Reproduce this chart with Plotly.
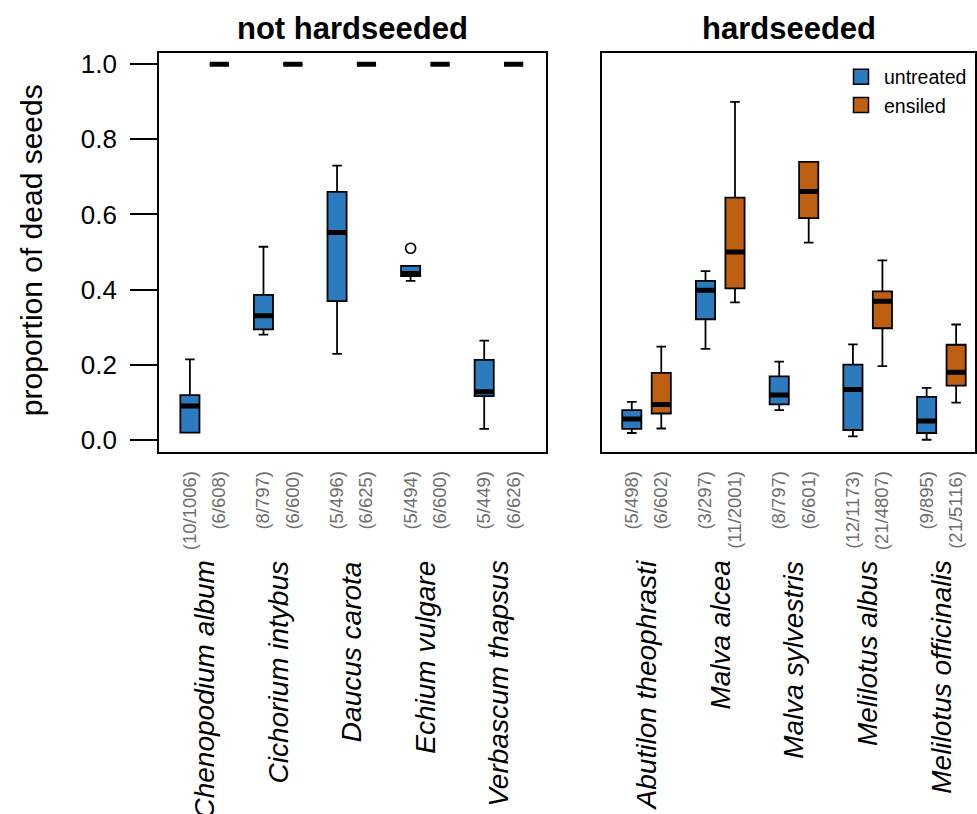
import plotly.graph_objects as go

# ---------------- data ----------------
species_nh = ["Chenopodium album", "Cichorium intybus", "Daucus carota", "Echium vulgare", "Verbascum thapsus"]
counts_nh_untreated = ["(10/1006)", "(8/797)", "(5/496)", "(5/494)", "(5/449)"]
counts_nh_ensiled = ["(6/608)", "(6/600)", "(6/625)", "(6/600)", "(6/626)"]

nh_untr_low = [0.019, 0.280, 0.229, 0.423, 0.029]
nh_untr_q1 = [0.019, 0.294, 0.369, 0.436, 0.116]
nh_untr_med = [0.090, 0.330, 0.552, 0.443, 0.128]
nh_untr_q3 = [0.119, 0.386, 0.660, 0.463, 0.213]
nh_untr_up = [0.214, 0.514, 0.730, 0.463, 0.264]
nh_ens_val = [1.0, 1.0, 1.0, 1.0, 1.0]
nh_outlier_species = ["Echium vulgare"]
nh_outlier_value = [0.510]

species_h = ["Abutilon theophrasti", "Malva alcea", "Malva sylvestris", "Melilotus albus", "Melilotus officinalis"]
counts_h_untreated = ["(5/498)", "(3/297)", "(8/797)", "(12/1173)", "(9/895)"]
counts_h_ensiled = ["(6/602)", "(11/2001)", "(6/601)", "(21/4807)", "(21/5116)"]

h_untr_low = [0.018, 0.242, 0.079, 0.009, 0.000]
h_untr_q1 = [0.029, 0.321, 0.094, 0.026, 0.018]
h_untr_med = [0.055, 0.398, 0.119, 0.134, 0.050]
h_untr_q3 = [0.079, 0.423, 0.169, 0.200, 0.114]
h_untr_up = [0.101, 0.449, 0.208, 0.254, 0.138]

h_ens_low = [0.030, 0.366, 0.525, 0.196, 0.099]
h_ens_q1 = [0.070, 0.403, 0.590, 0.297, 0.144]
h_ens_med = [0.094, 0.500, 0.661, 0.369, 0.180]
h_ens_q3 = [0.178, 0.645, 0.740, 0.395, 0.253]
h_ens_up = [0.248, 0.900, 0.740, 0.478, 0.307]

y_ticks = [0.0, 0.2, 0.4, 0.6, 0.8, 1.0]

# ---------------- styling ----------------
BLUE = "#2B7BBE"
ORANGE = "#BF5F12"
FONT = "Liberation Sans, Arial, sans-serif"
W, H = 977, 814
BOXW = 0.65

pos_untr = [1 + 2.5 * i for i in range(5)]
pos_ens = [p + 1 for p in pos_untr]
pair_center = [p + 0.5 for p in pos_untr]

fig = go.Figure()


def add_boxes(xa, ya, pos, low, q1, med, q3, up, color):
    fig.add_trace(go.Box(
        x=pos, lowerfence=low, q1=q1, median=med, q3=q3, upperfence=up,
        width=BOXW, whiskerwidth=0.5, fillcolor=color,
        line=dict(color="black", width=1.8), boxpoints=False,
        showlegend=False, hoverinfo="skip", xaxis=xa, yaxis=ya))
    mx, my = [], []
    for p, m in zip(pos, med):
        mx += [p - BOXW / 2, p + BOXW / 2, None]
        my += [m, m, None]
    fig.add_trace(go.Scatter(x=mx, y=my, mode="lines",
                             line=dict(color="black", width=5),
                             showlegend=False, hoverinfo="skip",
                             xaxis=xa, yaxis=ya))


# not hardseeded
add_boxes("x", "y", pos_untr, nh_untr_low, nh_untr_q1, nh_untr_med, nh_untr_q3, nh_untr_up, BLUE)
add_boxes("x", "y", pos_ens, nh_ens_val, nh_ens_val, nh_ens_val, nh_ens_val, nh_ens_val, ORANGE)
out_x = [pos_untr[species_nh.index(s)] for s in nh_outlier_species]
fig.add_trace(go.Scatter(x=out_x, y=nh_outlier_value, mode="markers",
                         marker=dict(symbol="circle-open", size=10, color="black",
                                     line=dict(width=1.7, color="black")),
                         showlegend=False, hoverinfo="skip", xaxis="x", yaxis="y"))

# hardseeded
add_boxes("x2", "y2", pos_untr, h_untr_low, h_untr_q1, h_untr_med, h_untr_q3, h_untr_up, BLUE)
add_boxes("x2", "y2", pos_ens, h_ens_low, h_ens_q1, h_ens_med, h_ens_q3, h_ens_up, ORANGE)

# legend entries
for name, col in [("untreated", BLUE), ("ensiled", ORANGE)]:
    fig.add_trace(go.Scatter(x=[None], y=[None], mode="markers", name=name,
                             marker=dict(symbol="square", size=15, color=col,
                                         line=dict(color="black", width=1.5)),
                             xaxis="x2", yaxis="y2"))

# axes
ydom = [1 - 452 / H, 1 - 50 / H]
yrange = [-0.0317, 1.031]
common_x = dict(showline=True, mirror=True, linecolor="black", linewidth=1.8,
                showgrid=False, zeroline=False, ticks="", tickangle=-90,
                tickfont=dict(family=FONT, size=18.5, color="#6e6e6e"),
                ticklabelstandoff=10)
tickpos = sorted(pos_untr + pos_ens)

fig.update_layout(
    width=W, height=H, margin=dict(l=0, r=0, t=0, b=0),
    paper_bgcolor="white", plot_bgcolor="white",
    font=dict(family=FONT, color="black"),
    xaxis=dict(domain=[159 / W, 546 / W], range=[-0.05, 13.1],
               tickvals=tickpos,
               ticktext=[t for pair in zip(counts_nh_untreated, counts_nh_ensiled) for t in pair],
               **common_x),
    xaxis2=dict(domain=[602 / W, 975 / W], range=[-0.01, 12.64], anchor="y2",
                tickvals=tickpos,
                ticktext=[t for pair in zip(counts_h_untreated, counts_h_ensiled) for t in pair],
                **common_x),
    yaxis=dict(domain=ydom, range=yrange, tickvals=y_ticks,
               ticktext=[f"{v:.1f}" for v in y_ticks],
               ticks="outside", ticklen=27, tickwidth=1.8, tickcolor="black",
               ticklabelstandoff=8,
               tickfont=dict(family=FONT, size=26, color="black"),
               showline=True, mirror=True, linecolor="black", linewidth=1.8,
               showgrid=False, zeroline=False),
    yaxis2=dict(domain=ydom, range=yrange, anchor="x2", showticklabels=False,
                ticks="", showline=True, mirror=True, linecolor="black", linewidth=1.8,
                showgrid=False, zeroline=False),
    legend=dict(x=838 / W, y=1 - 55 / H, xanchor="left", yanchor="top",
                bgcolor="rgba(0,0,0,0)", font=dict(family=FONT, size=19.5, color="black"),
                tracegroupgap=0, itemwidth=36),
)

annotations = []
annotations.append(dict(text="<b>not hardseeded</b>", xref="x domain", yref="paper", x=0.5,
                        y=1 - 26 / H, xanchor="center", yanchor="middle", showarrow=False,
                        font=dict(family=FONT, size=31, color="black")))
annotations.append(dict(text="<b>hardseeded</b>", xref="x2 domain", yref="paper", x=0.5,
                        y=1 - 26 / H, xanchor="center", yanchor="middle", showarrow=False,
                        font=dict(family=FONT, size=31, color="black")))
annotations.append(dict(text="proportion of dead seeds", xref="paper", yref="paper",
                        x=31 / W, y=1 - 249 / H, xanchor="center", yanchor="middle",
                        textangle=-90, showarrow=False,
                        font=dict(family=FONT, size=30, color="black")))
for xa, names in [("x", species_nh), ("x2", species_h)]:
    for c, s in zip(pair_center, names):
        annotations.append(dict(text=f"<i>{s}</i>", xref=xa, yref="paper", x=c,
                                y=1 - 560 / H, xanchor="center", yanchor="top",
                                textangle=-90, showarrow=False,
                                font=dict(family=FONT, size=28, color="black")))
fig.update_layout(annotations=annotations)

fig.write_html("out.html")
